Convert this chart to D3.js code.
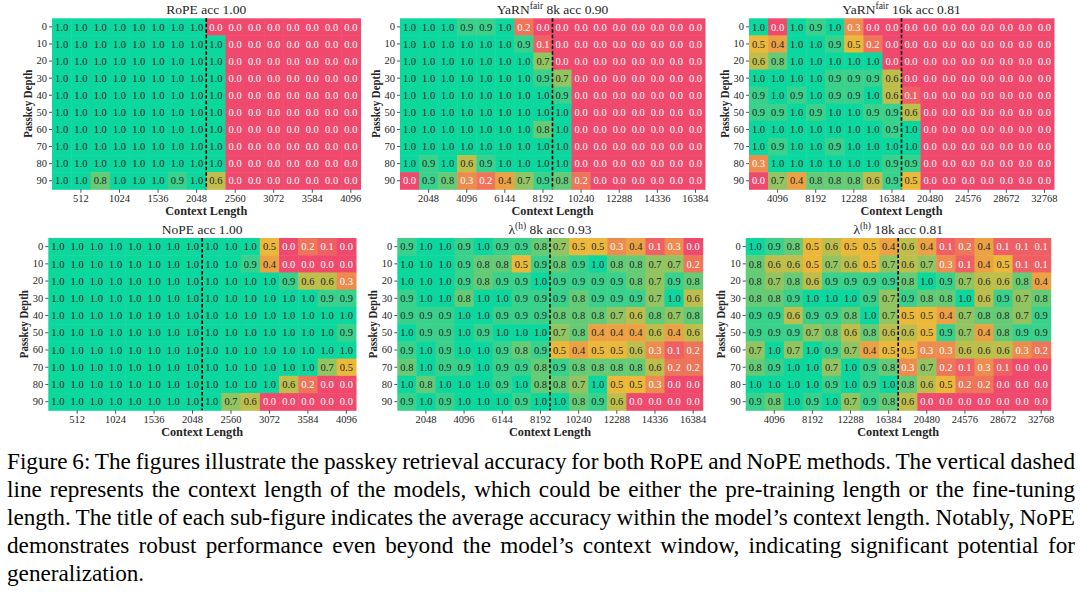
<!DOCTYPE html>
<html><head><meta charset="utf-8">
<script src="https://cdn.jsdelivr.net/npm/d3@7"></script>
<style>body{margin:0;background:#fff;} svg{display:block;}</style>
</head><body><svg id="c" width="1080" height="594"></svg>
<script>
// ---------------- DATA ----------------
const depths = [0, 10, 20, 30, 40, 50, 60, 70, 80, 90];
const colsRope = [256, 512, 768, 1024, 1280, 1536, 1792, 2048, 2304, 2560, 2816, 3072, 3328, 3584, 3840, 4096];
const cols8k = [1024, 2048, 3072, 4096, 5120, 6144, 7168, 8192, 9216, 10240, 11264, 12288, 13312, 14336, 15360, 16384];
const cols16k = [2048, 4096, 6144, 8192, 10240, 12288, 14336, 16384, 18432, 20480, 22528, 24576, 26624, 28672, 30720, 32768];
const ticksRope = [512, 1024, 1536, 2048, 2560, 3072, 3584, 4096];
const ticks8k = [2048, 4096, 6144, 8192, 10240, 12288, 14336, 16384];
const ticks16k = [4096, 8192, 12288, 16384, 20480, 24576, 28672, 32768];

const ropeAcc = [
 [1.0,1.0,1.0,1.0,1.0,1.0,1.0,1.0, 0.0,0.0,0.0,0.0,0.0,0.0,0.0,0.0],
 [1.0,1.0,1.0,1.0,1.0,1.0,1.0,1.0, 1.0,0.0,0.0,0.0,0.0,0.0,0.0,0.0],
 [1.0,1.0,1.0,1.0,1.0,1.0,1.0,1.0, 1.0,0.0,0.0,0.0,0.0,0.0,0.0,0.0],
 [1.0,1.0,1.0,1.0,1.0,1.0,1.0,1.0, 1.0,0.0,0.0,0.0,0.0,0.0,0.0,0.0],
 [1.0,1.0,1.0,1.0,1.0,1.0,1.0,1.0, 1.0,0.0,0.0,0.0,0.0,0.0,0.0,0.0],
 [1.0,1.0,1.0,1.0,1.0,1.0,1.0,1.0, 1.0,0.0,0.0,0.0,0.0,0.0,0.0,0.0],
 [1.0,1.0,1.0,1.0,1.0,1.0,1.0,1.0, 1.0,0.0,0.0,0.0,0.0,0.0,0.0,0.0],
 [1.0,1.0,1.0,1.0,1.0,1.0,1.0,1.0, 1.0,0.0,0.0,0.0,0.0,0.0,0.0,0.0],
 [1.0,1.0,1.0,1.0,1.0,1.0,1.0,1.0, 1.0,0.0,0.0,0.0,0.0,0.0,0.0,0.0],
 [1.0,1.0,0.8,1.0,1.0,1.0,0.9,1.0, 0.6,0.0,0.0,0.0,0.0,0.0,0.0,0.0]
];
const yarn8kAcc = [
 [1.0,1.0,1.0,0.9,0.9,1.0,0.2,0.0, 0.0,0.0,0.0,0.0,0.0,0.0,0.0,0.0],
 [1.0,1.0,1.0,1.0,1.0,1.0,0.9,0.1, 0.0,0.0,0.0,0.0,0.0,0.0,0.0,0.0],
 [1.0,1.0,1.0,1.0,1.0,1.0,1.0,0.7, 0.0,0.0,0.0,0.0,0.0,0.0,0.0,0.0],
 [1.0,1.0,1.0,1.0,1.0,1.0,1.0,0.9, 0.7,0.0,0.0,0.0,0.0,0.0,0.0,0.0],
 [1.0,1.0,1.0,1.0,1.0,1.0,1.0,1.0, 0.9,0.0,0.0,0.0,0.0,0.0,0.0,0.0],
 [1.0,1.0,1.0,1.0,1.0,1.0,1.0,1.0, 1.0,0.0,0.0,0.0,0.0,0.0,0.0,0.0],
 [1.0,1.0,1.0,1.0,1.0,1.0,1.0,0.8, 1.0,0.0,0.0,0.0,0.0,0.0,0.0,0.0],
 [1.0,1.0,1.0,1.0,1.0,1.0,1.0,1.0, 1.0,0.0,0.0,0.0,0.0,0.0,0.0,0.0],
 [1.0,0.9,1.0,0.6,0.9,1.0,1.0,1.0, 1.0,0.0,0.0,0.0,0.0,0.0,0.0,0.0],
 [0.0,0.9,0.8,0.3,0.2,0.4,0.7,0.9, 0.8,0.2,0.0,0.0,0.0,0.0,0.0,0.0]
];
const yarn16kAcc = [
 [1.0,0.0,1.0,0.9,1.0,0.3,0.0,0.0, 0.0,0.0,0.0,0.0,0.0,0.0,0.0,0.0],
 [0.5,0.4,1.0,1.0,0.9,0.5,0.2,0.0, 0.0,0.0,0.0,0.0,0.0,0.0,0.0,0.0],
 [0.6,0.8,1.0,1.0,1.0,1.0,1.0,0.0, 0.0,0.0,0.0,0.0,0.0,0.0,0.0,0.0],
 [1.0,1.0,1.0,1.0,0.9,0.9,0.9,0.6, 0.0,0.0,0.0,0.0,0.0,0.0,0.0,0.0],
 [0.9,1.0,0.9,1.0,0.9,0.9,1.0,0.6, 0.1,0.0,0.0,0.0,0.0,0.0,0.0,0.0],
 [0.9,0.9,1.0,0.9,1.0,1.0,0.9,0.9, 0.6,0.0,0.0,0.0,0.0,0.0,0.0,0.0],
 [1.0,1.0,1.0,1.0,1.0,1.0,1.0,0.9, 1.0,0.0,0.0,0.0,0.0,0.0,0.0,0.0],
 [1.0,0.9,1.0,1.0,0.9,1.0,1.0,1.0, 1.0,0.0,0.0,0.0,0.0,0.0,0.0,0.0],
 [0.3,1.0,1.0,1.0,1.0,1.0,1.0,0.9, 0.9,0.0,0.0,0.0,0.0,0.0,0.0,0.0],
 [0.0,0.7,0.4,0.8,0.8,0.8,0.6,0.9, 0.5,0.0,0.0,0.0,0.0,0.0,0.0,0.0]
];
const nopeAcc = [
 [1.0,1.0,1.0,1.0,1.0,1.0,1.0,1.0, 1.0,1.0,1.0,0.5,0.0,0.2,0.1,0.0],
 [1.0,1.0,1.0,1.0,1.0,1.0,1.0,1.0, 1.0,1.0,0.9,0.4,0.0,0.0,0.0,0.0],
 [1.0,1.0,1.0,1.0,1.0,1.0,1.0,1.0, 1.0,1.0,1.0,1.0,0.9,0.6,0.6,0.3],
 [1.0,1.0,1.0,1.0,1.0,1.0,1.0,1.0, 1.0,1.0,1.0,1.0,1.0,1.0,0.9,0.9],
 [1.0,1.0,1.0,1.0,1.0,1.0,1.0,1.0, 1.0,1.0,1.0,1.0,1.0,1.0,1.0,1.0],
 [1.0,1.0,1.0,1.0,1.0,1.0,1.0,1.0, 1.0,1.0,1.0,1.0,1.0,1.0,1.0,0.9],
 [1.0,1.0,1.0,1.0,1.0,1.0,1.0,1.0, 1.0,1.0,1.0,1.0,1.0,1.0,1.0,1.0],
 [1.0,1.0,1.0,1.0,1.0,1.0,1.0,1.0, 1.0,1.0,1.0,1.0,1.0,1.0,0.7,0.5],
 [1.0,1.0,1.0,1.0,1.0,1.0,1.0,1.0, 1.0,1.0,1.0,1.0,0.6,0.2,0.0,0.0],
 [1.0,1.0,1.0,1.0,1.0,1.0,1.0,1.0, 1.0,0.7,0.6,0.0,0.0,0.0,0.0,0.0]
];
const lambda8kAcc = [
 [0.9,1.0,1.0,0.9,1.0,0.9,0.9,0.8, 0.7,0.5,0.5,0.3,0.4,0.1,0.3,0.0],
 [1.0,1.0,1.0,0.9,0.8,0.8,0.5,0.9, 0.8,0.9,1.0,0.8,0.8,0.7,0.7,0.2],
 [1.0,1.0,1.0,0.9,0.8,0.9,0.9,1.0, 0.9,0.9,0.9,0.9,0.8,0.7,0.9,0.8],
 [0.9,1.0,1.0,0.8,1.0,1.0,0.9,0.9, 0.9,0.8,0.9,0.9,0.9,0.7,1.0,0.6],
 [0.9,0.9,0.9,1.0,1.0,0.9,0.9,0.9, 0.8,0.8,0.8,0.7,0.6,0.8,0.7,0.8],
 [1.0,0.9,0.9,1.0,0.9,1.0,1.0,1.0, 0.7,0.8,0.4,0.4,0.4,0.6,0.4,0.6],
 [0.9,1.0,0.9,1.0,1.0,0.9,0.8,0.9, 0.5,0.4,0.5,0.5,0.6,0.3,0.1,0.2],
 [0.8,1.0,0.9,0.9,1.0,0.9,0.9,0.8, 0.9,0.8,0.8,0.8,0.8,0.6,0.2,0.2],
 [1.0,0.8,1.0,1.0,1.0,0.9,1.0,0.8, 0.8,0.7,1.0,0.5,0.5,0.3,0.0,0.0],
 [0.9,1.0,0.9,1.0,1.0,1.0,0.9,1.0, 1.0,0.8,0.9,0.6,0.0,0.0,0.0,0.0]
];
const lambda18kAcc = [
 [1.0,0.9,0.8,0.5,0.6,0.5,0.5,0.4, 0.6,0.4,0.1,0.2,0.4,0.1,0.1,0.1],
 [0.8,0.6,0.6,0.5,0.7,0.6,0.5,0.7, 0.6,0.7,0.3,0.1,0.4,0.5,0.1,0.1],
 [0.8,0.7,0.8,0.6,0.9,0.9,0.9,0.9, 0.8,1.0,0.9,0.7,0.6,0.6,0.8,0.4],
 [0.8,0.8,0.9,1.0,1.0,1.0,0.9,0.7, 0.9,0.8,0.8,1.0,0.6,0.9,0.7,0.8],
 [0.9,0.9,0.6,0.9,0.9,0.8,1.0,0.7, 0.5,0.5,0.4,0.7,0.8,0.8,0.7,0.9],
 [0.9,0.9,0.9,0.7,0.8,0.6,0.8,0.6, 0.6,0.5,0.9,0.7,0.4,0.8,0.9,0.9],
 [0.7,1.0,0.7,1.0,0.9,0.7,0.4,0.5, 0.5,0.3,0.3,0.6,0.6,0.6,0.3,0.2],
 [0.8,0.9,1.0,1.0,0.7,1.0,0.9,0.8, 0.3,0.7,0.2,0.1,0.3,0.1,0.0,0.0],
 [1.0,1.0,1.0,1.0,0.9,1.0,0.9,1.0, 0.8,0.6,0.5,0.2,0.2,0.0,0.0,0.0],
 [0.9,0.8,1.0,0.9,1.0,0.7,0.9,0.8, 0.6,0.0,0.0,0.0,0.0,0.0,0.0,0.0]
];
const contextLimits = [2048, 8192, 16384, 2048, 8192, 16384];
const titleNames = ["RoPE", "YaRN", "YaRN", "NoPE", "\u03bb", "\u03bb"];
const titleSups = ["", "fair", "fair", "", "(h)", "(h)"];
const titleRests = [" acc 1.00", " 8k acc 0.90", " 16k acc 0.81", " acc 1.00", " 8k acc 0.93", " 18k acc 0.81"];
const captionLines = [
 "Figure 6: The figures illustrate the passkey retrieval accuracy for both RoPE and NoPE methods. The vertical dashed",
 "line represents the context length of the models, which could be either the pre-training length or the fine-tuning",
 "length. The title of each sub-figure indicates the average accuracy within the model\u2019s context length. Notably, NoPE",
 "demonstrates robust performance even beyond the model\u2019s context window, indicating significant potential for",
 "generalization."
];

// ---------------- DRAW ----------------
const svg = d3.select("#c");
svg.append("rect").attr("width",1080).attr("height",594).attr("fill","#fff");
const FONT = "'Liberation Serif','Times New Roman',serif";
const cmap = d3.scaleLinear().domain([0,0.5,1]).range(["#F0496E","#EBB839","#0CD79F"]).interpolate(d3.interpolateRgb);
function lum(c){
  const r = d3.rgb(c);
  const f = v => { v/=255; return v<=0.03928 ? v/12.92 : Math.pow((v+0.055)/1.055,2.4); };
  return 0.2126*f(r.r)+0.7152*f(r.g)+0.0722*f(r.b);
}
const fmt = d3.format(".1f");

const datasets = [ropeAcc, yarn8kAcc, yarn16kAcc, nopeAcc, lambda8kAcc, lambda18kAcc];
const colSets = [colsRope, cols8k, cols16k, colsRope, cols8k, cols16k];
const tickSets = [ticksRope, ticks8k, ticks16k, ticksRope, ticks8k, ticks16k];
// layout boxes [x, y, w, h]
const boxes = [
 [52, 18.3, 308.5, 171],
 [400, 18.3, 305, 171],
 [749, 18.3, 305, 171],
 [48.3, 238, 307.7, 172.3],
 [397.3, 238, 305.4, 172.3],
 [745.7, 238, 305, 172.3]
];

datasets.forEach((data, p) => {
  const [bx, by, bw, bh] = boxes[p];
  const cols = colSets[p];
  const g = svg.append("g").attr("transform", `translate(${bx},${by})`);
  const x = d3.scaleBand().domain(cols).range([0, bw]);
  const y = d3.scaleBand().domain(depths).range([0, bh]);
  const cells = [];
  data.forEach((row, i) => row.forEach((v, j) => cells.push({d: depths[i], c: cols[j], v})));
  g.selectAll("rect.cell").data(cells).join("rect").attr("class","cell")
    .attr("x", d => x(d.c)).attr("y", d => y(d.d))
    .attr("width", x.bandwidth()+0.5).attr("height", y.bandwidth()+0.5)
    .attr("fill", d => cmap(d.v));
  g.selectAll("text.val").data(cells).join("text").attr("class","val")
    .attr("x", d => x(d.c) + x.bandwidth()/2).attr("y", d => y(d.d) + y.bandwidth()/2)
    .attr("dy", "0.35em").attr("text-anchor","middle")
    .attr("font-family", FONT).attr("font-size", 10.5)
    .attr("fill", d => lum(cmap(d.v)) > 0.408 ? "#262626" : "#ffffff")
    .text(d => fmt(d.v));
  // dashed context line
  const lx = x(contextLimits[p]) + x.bandwidth();
  g.append("line").attr("x1", lx).attr("x2", lx).attr("y1", 0).attr("y2", bh)
    .attr("stroke","#000").attr("stroke-width",1.6).attr("stroke-dasharray","3.5,2");
  // axes
  const xa = g.append("g").attr("transform", `translate(0,${bh})`)
    .call(d3.axisBottom(x).tickValues(tickSets[p]).tickSize(3.5).tickPadding(2));
  const ya = g.append("g").call(d3.axisLeft(y).tickSize(3).tickPadding(2));
  [xa, ya].forEach(a => {
    a.attr("font-family", FONT);
    a.select(".domain").remove();
    a.selectAll("line").attr("stroke","#262626").attr("stroke-width",0.8);
    a.selectAll("text").attr("font-family", FONT).attr("font-size", 10.5).attr("fill","#262626");
  });
  // axis labels
  g.append("text").attr("x", bw/2).attr("y", bh + 25.7).attr("text-anchor","middle")
    .attr("font-family", FONT).attr("font-size", 11.5).attr("font-weight","bold").attr("fill","#262626")
    .attr("textLength", 82).attr("lengthAdjust","spacingAndGlyphs")
    .text("Context Length");
  g.append("text").attr("transform", `translate(-20.5,${bh/2}) rotate(-90)`).attr("text-anchor","middle")
    .attr("font-family", FONT).attr("font-size", 11.5).attr("font-weight","bold").attr("fill","#262626")
    .attr("textLength", 68).attr("lengthAdjust","spacingAndGlyphs")
    .text("Passkey Depth");
  // title
  const t = g.append("text").attr("x", bw/2).attr("y", -4.5).attr("text-anchor","middle")
    .attr("font-family", FONT).attr("font-size", 13.5).attr("fill","#262626");
  t.append("tspan").text(titleNames[p]);
  if (titleSups[p]) t.append("tspan").attr("dy", -5).attr("font-size", 9.5).text(titleSups[p]);
  t.append("tspan").attr("dy", titleSups[p] ? 5 : 0).text(titleRests[p]);
});

// caption
const capX = 7, capW = 1068;
captionLines.forEach((line, i) => {
  const t = svg.append("text").attr("x", capX).attr("y", 469 + i*28)
    .attr("font-family", FONT).attr("font-size", 23.2).attr("fill","#000").text(line);
  if (i < captionLines.length - 1) {
    const nat = t.node().getComputedTextLength();
    const spaces = (line.match(/ /g) || []).length;
    t.attr("word-spacing", ((capW - nat) / spaces).toFixed(3));
  }
});
</script></body></html>
